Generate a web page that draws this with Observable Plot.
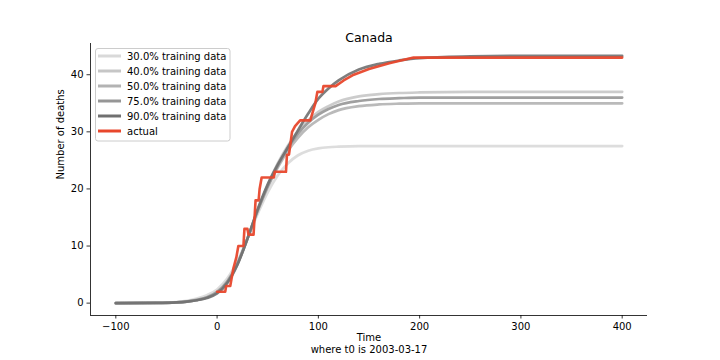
<!DOCTYPE html>
<html>
<head>
<meta charset="utf-8">
<script src="https://cdn.jsdelivr.net/npm/d3@7"></script>
<script src="https://cdn.jsdelivr.net/npm/@observablehq/plot@0.6"></script>
<style>
  html, body { margin: 0; padding: 0; background: #fff; }
  svg { display: block; }
</style>
</head>
<body>
<div id="chart"></div>
<script>
const title = "Canada";
const xLabel = "Time";
const xSubLabel = "where t0 is 2003-03-17";
const yLabel = "Number of deaths";

const xTicks = [-100, 0, 100, 200, 300, 400];
const yTicks = [0, 10, 20, 30, 40];

const t = [-100,-60,-40,-30,-20,-10,0,10,20,30,40,50,60,70,80,90,100,110,120,140,160,180,200,250,300,400];
const train30 = [0,0.05,0.2,0.4,0.8,1.4,2.4,4.3,7.3,11.3,15.6,19.4,22.4,24.5,25.9,26.7,27.1,27.3,27.4,27.5,27.5,27.5,27.5,27.5,27.5,27.5];
const train40 = [0,0.03,0.13,0.28,0.57,1.05,2.0,3.8,6.9,11.3,16.2,20.7,24.5,27.6,30.1,32.0,33.5,34.5,35.3,36.2,36.6,36.8,36.9,37,37,37];
const train50 = [0,0.03,0.13,0.28,0.57,1.05,2.0,3.8,6.9,11.3,16.1,20.3,23.8,26.7,29.0,30.8,32.1,33.1,33.8,34.5,34.8,34.93,35,35,35,35];
const train75 = [0,0.03,0.12,0.27,0.55,1.0,1.9,3.7,6.8,11.3,16.2,20.5,24.1,27.2,29.7,31.6,33.0,34.0,34.7,35.4,35.75,35.9,36,36,36,36];
const train90 = [0,0.03,0.12,0.25,0.5,0.9,1.7,3.5,6.7,11.3,16.4,20.8,24.3,27.3,30.3,33.2,35.8,37.6,39.0,40.9,41.9,42.5,42.9,43.2,43.3,43.3];

const actualT = [0,8,9,13,16,19,21,26,27,30,31,36,37,38,41,42,44,56,57,68,69,71,74,77,82,92,97,99,104,105,117,125,135,150,170,194,400];
const actualY = [2,2,3,3,6,8,10,10,13,13,12,12,15,18,18,20,22,22,23,23,26,26,30,31,32,32,35,37,37,38,38,39,40,41,42,43,43];

const seriesNames = ["30.0% training data","40.0% training data","50.0% training data","75.0% training data","90.0% training data","actual"];
const seriesColors = ["#d9d9d9","#c6c6c6","#b3b3b3","#969696","#707070","#e8472c"];

const trainSets = [train30, train40, train50, train75, train90];
const trainRows = trainSets.flatMap((vals, i) => vals.map((v, j) => ({t: t[j], y: v, s: seriesNames[i]})));
const actualRows = actualT.map((x, i) => ({t: x, y: actualY[i]}));

const xDomain = [-125, 425];
const yDomain = [-2.165, 45.47];

const plot = Plot.plot({
  width: 720,
  height: 360,
  marginLeft: 90,
  marginRight: 73,
  marginTop: 43,
  marginBottom: 45,
  style: {fontFamily: "DejaVu Sans", fontSize: "10px", color: "#000", background: "#fff"},
  x: {domain: xDomain, label: null},
  y: {domain: yDomain, label: null},
  color: {domain: seriesNames.slice(0,5), range: seriesColors.slice(0,5)},
  marks: [
    Plot.axisX({ticks: xTicks, tickSize: 3.5, tickPadding: 3.5, stroke: "#000", strokeWidth: 0.8, fill: "#000", fontSize: 10}),
    Plot.axisY({ticks: yTicks, tickSize: 3.5, tickPadding: 3.5, stroke: "#000", strokeWidth: 0.8, fill: "#000", fontSize: 10}),
    Plot.ruleX([xDomain[0]], {stroke: "#000", strokeWidth: 0.8}),
    Plot.ruleY([yDomain[0]], {stroke: "#000", strokeWidth: 0.8}),
    Plot.line(trainRows, {x: "t", y: "y", z: "s", stroke: "s", strokeWidth: 2.7, curve: "monotone-x", strokeOpacity: 0.9}),
    Plot.line(actualRows, {x: "t", y: "y", stroke: seriesColors[5], strokeWidth: 2.6, strokeOpacity: 0.95}),
    Plot.text([title], {frameAnchor: "top", dy: -10, fontSize: 12.5, fill: "#000"}),
    Plot.text([xLabel], {frameAnchor: "bottom", dy: 25, fontSize: 10, fill: "#000"}),
    Plot.text([xSubLabel], {frameAnchor: "bottom", dy: 37.5, fontSize: 10, fill: "#000"}),
    Plot.text([yLabel], {frameAnchor: "left", dx: -30, rotate: -90, fontSize: 10, fill: "#000"})
  ]
});

// legend
const svg = d3.select(plot);
const lg = svg.append("g").attr("font-family", "DejaVu Sans").attr("font-size", 10).attr("text-anchor", "start");
lg.append("rect").attr("x", 95.5).attr("y", 48.5).attr("width", 134.5).attr("height", 92.5)
  .attr("rx", 2.5).attr("fill", "#fff").attr("fill-opacity", 0.8).attr("stroke", "#cccccc").attr("stroke-width", 1);
seriesNames.forEach((name, i) => {
  const y = 56 + i * 15;
  lg.append("line").attr("x1", 98).attr("x2", 121).attr("y1", y).attr("y2", y)
    .attr("stroke", seriesColors[i]).attr("stroke-width", 3);
  lg.append("text").attr("x", 127).attr("y", y).attr("dy", "0.35em").attr("fill", "#000")
    .attr("text-anchor", "start").style("text-anchor", "start").text(name);
});

document.getElementById("chart").appendChild(plot);
</script>
</body>
</html>
